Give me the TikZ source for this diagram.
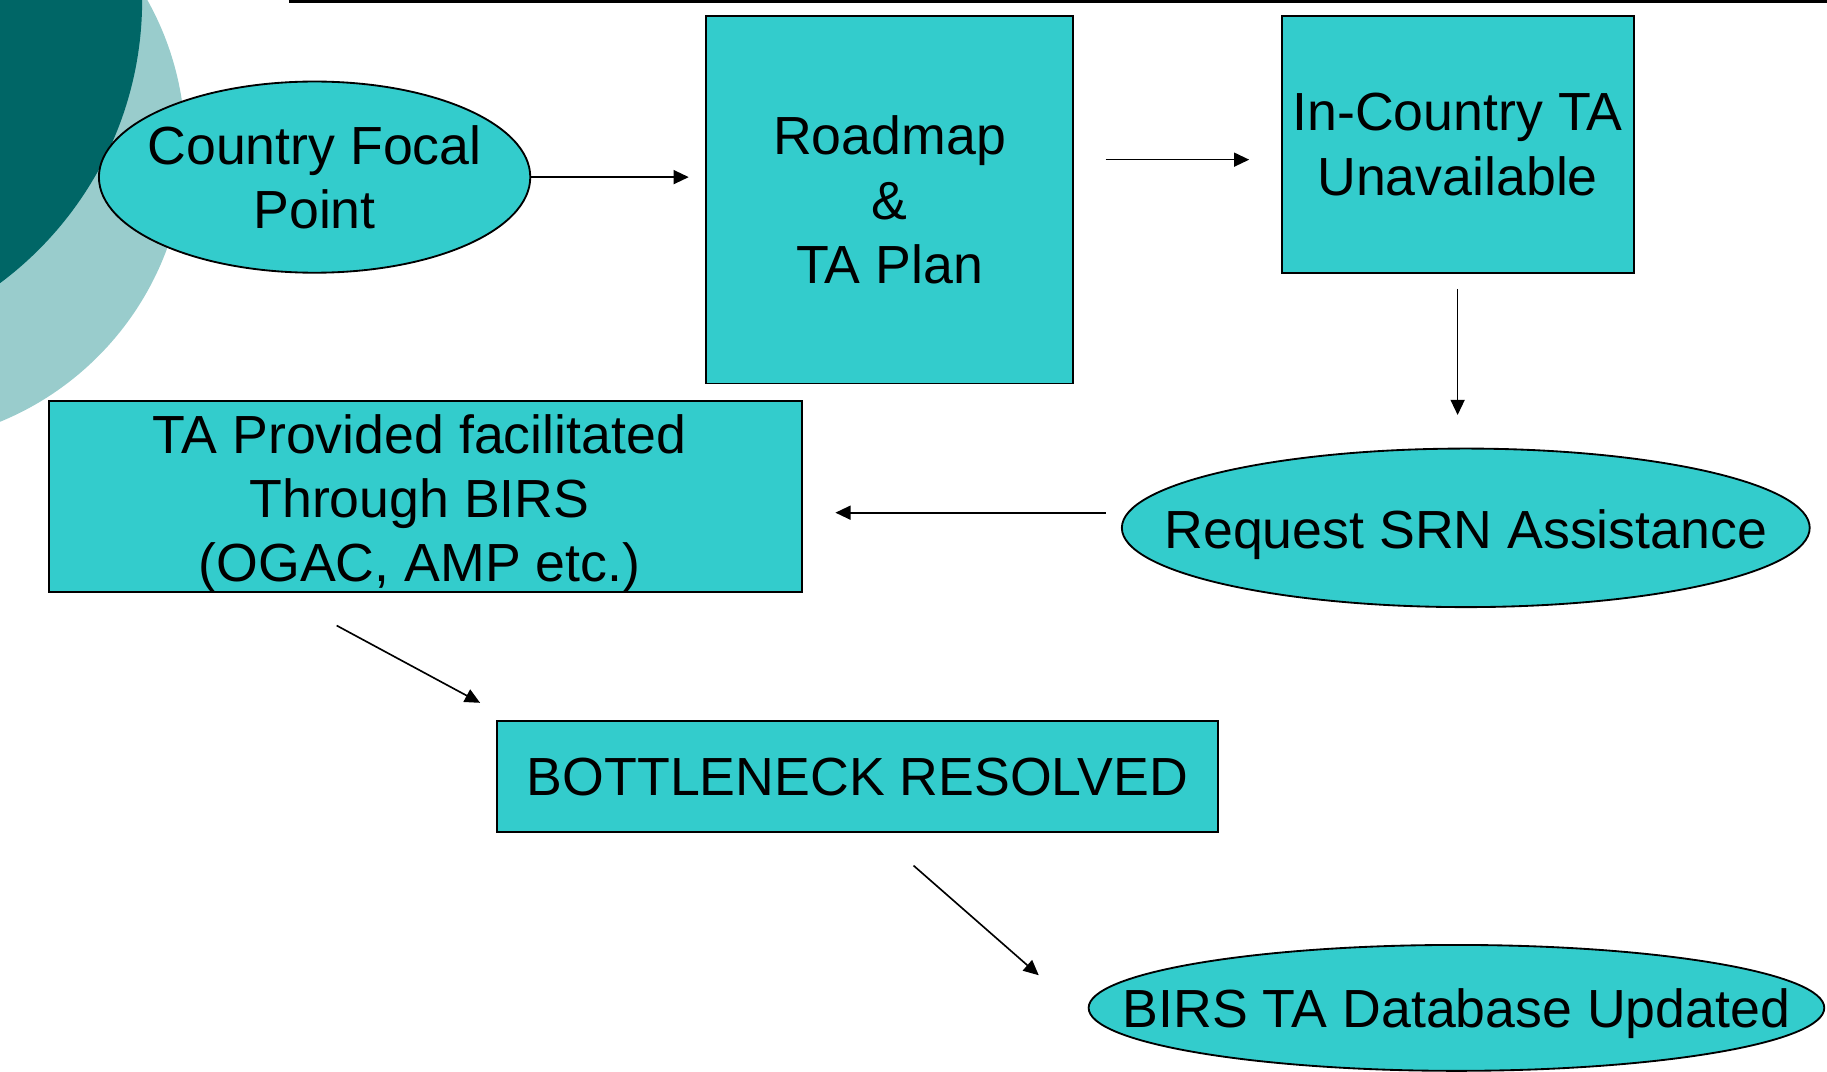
\documentclass[tikz,border=0pt]{standalone}
\usepackage{fontspec}
\setmainfont{Liberation Sans}
\usetikzlibrary{shapes.geometric, arrows.meta}
\definecolor{boxfill}{HTML}{33CCCC}
\definecolor{darkteal}{HTML}{006666}
\definecolor{lightteal}{HTML}{99CCCC}
\begin{document}
\begin{tikzpicture}[x=0.01cm, y=-0.01cm,
		txt/.style={font=\fontsize{13.1pt}{15.65pt}\selectfont, align=center, inner sep=0pt},
		stepbox/.style={txt, rectangle, draw, fill=boxfill, line width=0.45pt},
		oval/.style={ellipse, draw, fill=boxfill, line width=0.45pt, inner sep=0pt},
		arr/.style={-{Triangle[length=0.13cm, width=0.12cm]}, line width=0.4pt}]
		\useasboundingbox (0,0) rectangle (1568,920);
		\begin{scope}
			\clip (0,0) rectangle (1568,920);
			\fill[lightteal] (-97,125) circle (256);
			\fill[darkteal] (-181,0) circle (303);
		\end{scope}
		\draw[line width=0.7pt] (248,1) -- (1568,1);
		\node[oval, minimum width=3.7cm, minimum height=1.64cm, label={[txt]center:Country Focal\\Point}] (cfp) at (270,152) {};
		\node[stepbox, minimum width=3.15cm, minimum height=3.15cm] (road) at (763.5,171.5) {Roadmap\\\&\\TA Plan};
		\node[stepbox, minimum width=3.02cm, minimum height=2.2cm] (inc) at (1251,124) {In-Country TA\\Unavailable};
		\node[oval, minimum width=5.9cm, minimum height=1.36cm, label={[txt, yshift=-0.06cm]center:Request SRN Assistance}] (srn) at (1258,453) {};
		\node[stepbox, minimum width=6.46cm, minimum height=1.64cm, label={[txt, xshift=-0.05cm, yshift=-0.06cm]center:TA Provided facilitated\\Through BIRS\\(OGAC, AMP etc.)}] (tap) at (365,426) {};
		\node[stepbox, minimum width=6.18cm, minimum height=0.95cm] (bn) at (736,666.5) {BOTTLENECK RESOLVED};
		\node[oval, minimum width=6.31cm, minimum height=1.08cm, label={[txt, yshift=-0.05cm]center:BIRS TA Database Updated}] (db) at (1250,865) {};
		\coordinate (a2) at ([yshift=-0.13cm]inc.west);
		\coordinate (a4) at ([yshift=0.13cm]srn.west);
		\draw[arr, shorten >=0.14cm] (cfp.east) -- (cfp.east -| road.west);
		\draw[arr, shorten <=0.27cm, shorten >=0.27cm] (a2 -| road.east) -- (a2);
		\draw[arr, shorten <=0.13cm, shorten >=0.28cm] (inc.south) -- (inc.south |- srn.north);
		\draw[arr, shorten >=0.28cm] ([xshift=-0.13cm]a4) -- (a4 -| tap.east);
		\draw[arr] ([xshift=-0.76cm, yshift=-0.28cm]tap.south) -- ([xshift=-0.14cm, yshift=0.15cm]bn.north west);
		\draw[arr] ([xshift=0.48cm, yshift=-0.28cm]bn.south) -- ([xshift=-0.42cm, yshift=0.28cm]db.west);
	\end{tikzpicture}
\end{document}
